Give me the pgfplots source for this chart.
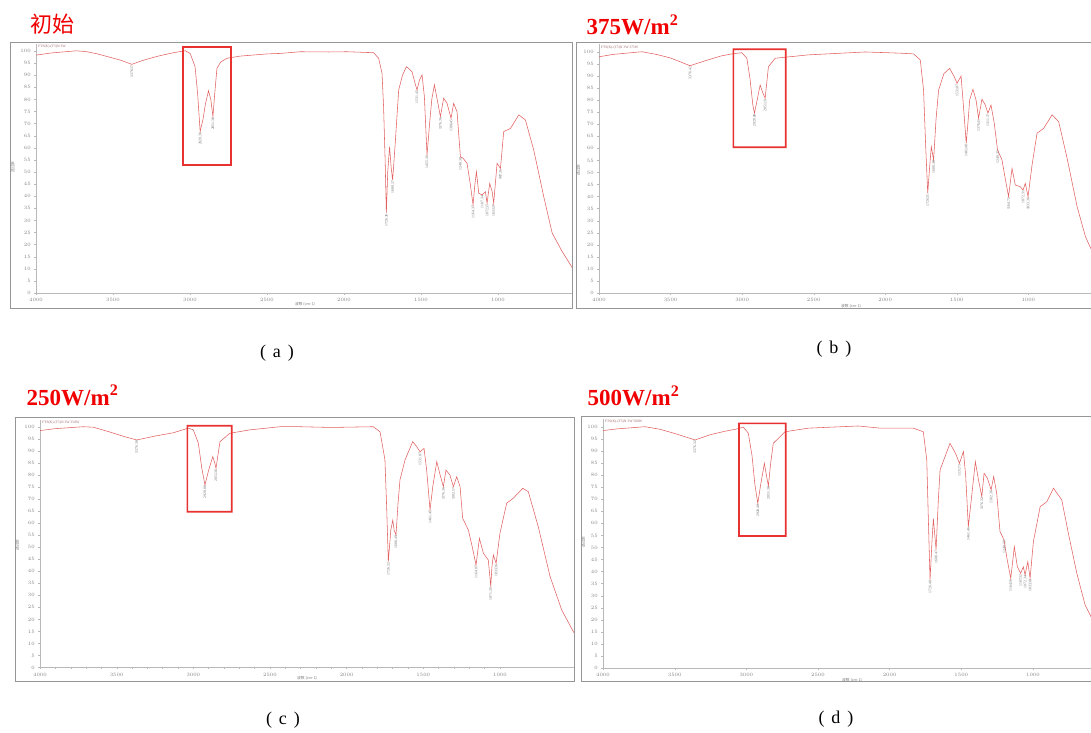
\documentclass[border=0pt]{standalone}
\usepackage{pgfplots}
\pgfplotsset{compat=1.18}
\usepackage{fontspec}
\setmainfont{Liberation Serif}
\newfontfamily\cjk{Noto Sans CJK SC}
\definecolor{spec}{RGB}{226,96,96}
\definecolor{boxred}{RGB}{232,50,50}
\definecolor{titlered}{RGB}{240,0,0}
\definecolor{framegray}{RGB}{150,150,150}
\definecolor{lblgray}{RGB}{110,110,110}

\pgfplotsset{ftir/.style={
  scale only axis, x dir=reverse, xmax=4000, ymin=0,
  axis x line*=bottom, axis y line*=left,
  axis line style={-, gray!55},
  xtick={1000,1500,...,4000}, ytick={0,5,...,100},
  minor x tick num=4,
  tick align=outside, major tick length=1.8pt, minor tick length=1pt,
  tick style={gray!55, line width=0.3pt},
  tick label style={font=\fontsize{3.5}{3.5}\selectfont, text=gray},
  scaled x ticks=false,
  /pgf/number format/1000 sep={},
}}
\newcommand{\pk}[3]{\node[rotate=90, anchor=east, inner sep=0.8pt, text=lblgray, font=\fontsize{3.8}{4}\selectfont] at (axis cs:#1,#2) {#3};}
\newcommand{\hdr}[1]{\node[anchor=north west, inner sep=0.5pt, text=gray!80!red, font=\fontsize{3.6}{4}\selectfont] at (rel axis cs:0.003,0.998) {#1};}
% ring-shaped red box drawn as a fill: x1 y1 x2 y2 (pt)
\newcommand{\ringbox}[4]{\fill[boxred, even odd rule] (#1pt-0.8pt,#2pt-0.8pt) rectangle (#3pt+0.8pt,#4pt+0.8pt) (#1pt+0.8pt,#2pt+0.8pt) rectangle (#3pt-0.8pt,#4pt-0.8pt);}

\begin{document}
\begin{tikzpicture}
\useasboundingbox (0,0) rectangle (1091pt,732pt);

% frames
\draw[framegray, line width=0.9pt] (10pt,424pt) rectangle (572pt,690pt);
\draw[framegray, line width=0.9pt] (1092pt,424pt) -- (576.5pt,424pt) -- (576.5pt,689.3pt) -- (1092pt,689.3pt);
\draw[framegray, line width=0.9pt] (15pt,50.3pt) rectangle (574.3pt,314.3pt);
\draw[framegray, line width=0.9pt] (1092pt,50.3pt) -- (581pt,50.3pt) -- (581pt,315.3pt) -- (1092pt,315.3pt);

% ---------- (a) ----------
\begin{axis}[ftir, at={(36pt,439pt)}, anchor=south west, width=536pt, height=249pt, xmin=519.5, ymax=102.9]
\addplot[color=spec, line width=0.55pt, mark=none] coordinates {
(4000,98.3)(3900,99.2)(3736,100.1)(3670,99.7)(3600,98.8)(3519,97.4)(3450,96.2)(3378,94.5)(3330,95.6)(3280,96.6)(3200,98.0)(3107,99.3)(3031,100.1)(2999,99.0)(2967,93.5)(2950,82)(2934,66.7)(2915,72)(2900,78)(2880,83.6)(2865,80)(2851,72.9)(2840,82)(2825,92.8)(2800,95.5)(2760,97.0)(2674,97.9)(2500,98.8)(2414,99.0)(2284,99.7)(2100,99.6)(1981,99.7)(1808,99.3)(1775,97.0)(1753,90.8)(1743,77)(1733,55)(1725,33)(1716,50)(1704,60.5)(1694,52)(1684,46.7)(1666,63.2)(1645,83.9)(1620,90)(1595,93.5)(1575,92.5)(1558,91.4)(1540,87)(1526,83.9)(1510,88)(1493,90.1)(1478,81.1)(1461,57)(1444,70.1)(1430,80)(1413,86)(1395,80)(1374,72.9)(1353,80.5)(1331,78.4)(1305,72.2)(1288,78.4)(1266,74.9)(1244,56.3)(1227,55.7)(1201,53.6)(1180,45)(1162,36.4)(1150,45)(1140,50.1)(1125,41.2)(1103,40.5)(1082,41.9)(1071,37.1)(1054,45.3)(1038,41.9)(1028,37.1)(1006,53.6)(984,51.5)(963,66.7)(919,68)(865,73.6)(822,71.5)(768,59.1)(703,39.8)(648,24.7)(583,17.1)(529,11.6)(519.5,10.5)
};
\hdr{FTS(K)-(T5)N 3W}
\pk{3378}{94.5}{3376.37}
\pk{2934}{66.7}{2920.36}
\pk{2851}{72.9}{2851.36}
\pk{1725}{33}{1726.36}
\pk{1684}{46.7}{1680.37}
\pk{1526}{83.9}{1531.45}
\pk{1461}{57}{1455.36}
\pk{1374}{72.9}{1376.36}
\pk{1305}{72.2}{1306.45}
\pk{1244}{56.3}{1240.38}
\pk{1162}{36.4}{1164.37}
\pk{1103}{40.5}{1107.34}
\pk{1071}{37.1}{1072.35}
\pk{1028}{37.1}{1033.37}
\pk{984}{51.5}{987.36}
\end{axis}

% ---------- (b) ----------
\begin{axis}[ftir, at={(599pt,439pt)}, anchor=south west, width=492pt, height=248.5pt, xmin=562, ymax=103.1]
\addplot[color=spec, line width=0.55pt, mark=none] coordinates {
(4000,98.0)(3900,99)(3701,100.1)(3600,99)(3500,97.5)(3364,94.3)(3250,96.5)(3150,98.3)(3072,99.2)(3002,99.7)(2967,97.4)(2945,89)(2925,78)(2914,74.6)(2895,80)(2874,86.3)(2855,83)(2839,80.8)(2830,86)(2816,93.9)(2769,97.4)(2536,98.8)(2140,100)(1990,99.7)(1895,99.5)(1802,99.2)(1755,96.7)(1732,84.2)(1718,62)(1703,41.4)(1690,52)(1678,60.7)(1662,55.2)(1645,72)(1627,84.2)(1590,91)(1550,93.2)(1520,90)(1498,87)(1470,90)(1450,75)(1434,62.1)(1420,72)(1410,80.1)(1387,84.5)(1365,80)(1348,72.5)(1324,80.4)(1301,78)(1282,74.6)(1261,78)(1238,70.4)(1215,59.3)(1184,55.2)(1160,47)(1138,40)(1114,51.7)(1091,44.8)(1056,44.1)(1037,42.7)(1021,45.5)(1002,40)(974,53.1)(939,66.3)(893,68.3)(834,73.9)(788,71.1)(729,55.9)(659,35.8)(601,23.4)(562,18.3)
};
\hdr{FTS(K)-(T5)N 3W 375W}
\pk{3364}{94.3}{3376.42}
\pk{2914}{74.6}{2920.88}
\pk{2839}{80.8}{2851.19}
\pk{1703}{41.4}{1726.35}
\pk{1662}{55.2}{1680.48}
\pk{1498}{87}{1531.87}
\pk{1434}{62.1}{1461.48}
\pk{1348}{72.5}{1376.41}
\pk{1282}{74.6}{1311.17}
\pk{1215}{59.3}{1240.35}
\pk{1138}{40}{1164.72}
\pk{1037}{42.7}{1072.31}
\pk{1002}{40}{1033.36}
\end{axis}

% ---------- (c) ----------
\begin{axis}[ftir, at={(40pt,64.5pt)}, anchor=south west, width=534.3pt, height=248pt, xmin=515, ymax=103.1]
\addplot[color=spec, line width=0.55pt, mark=none] coordinates {
(4000,98.5)(3900,99.3)(3718,100.1)(3652,99.9)(3550,98)(3450,96)(3369,94.6)(3250,96.2)(3130,97.6)(3033,99.5)(3000,98.8)(2967,93.2)(2945,83)(2924,75.9)(2900,82)(2873,87.7)(2860,85)(2852,82.8)(2840,88)(2826,93.9)(2761,97.4)(2630,98.8)(2434,100.1)(2304,100.1)(2100,99.8)(1826,100.1)(1782,98)(1750,86.3)(1738,65)(1728,44)(1712,57)(1699,61.3)(1690,57)(1678,55.1)(1665,68)(1652,78)(1619,86.3)(1569,93.9)(1545,92)(1521,89.7)(1495,91.1)(1478,82.1)(1456,65.5)(1438,75.2)(1412,85.6)(1390,80)(1369,75.2)(1352,82.1)(1326,80)(1304,75.2)(1282,79.3)(1260,75.2)(1243,62)(1206,57.2)(1180,50)(1156,42.6)(1134,53.7)(1108,47.5)(1076,44.7)(1066,38)(1060,33.6)(1052,42)(1043,46.8)(1025,43.3)(1000,55.8)(956,68.3)(913,70.4)(851,74.5)(815,73.1)(750,58.5)(673,37.8)(597,23.9)(521,14.9)(515,14.3)
};
\hdr{FTS(K)-(T5)N 3W 250W}
\pk{3369}{94.6}{3376.38}
\pk{2924}{75.9}{2920.88}
\pk{2852}{82.8}{2851.36}
\pk{1728}{44}{1726.32}
\pk{1678}{55.1}{1680.49}
\pk{1521}{89.7}{1531.87}
\pk{1456}{65.5}{1461.45}
\pk{1369}{75.2}{1376.36}
\pk{1304}{75.2}{1302.57}
\pk{1156}{42.6}{1164.87}
\pk{1060}{33.6}{1071.30}
\pk{1025}{43.3}{1033.36}
\end{axis}

% ---------- (d) ----------
\begin{axis}[ftir, at={(603pt,64pt)}, anchor=south west, width=488pt, height=249.5pt, xmin=595, ymax=103.5]
\addplot[color=spec, line width=0.55pt, mark=none] coordinates {
(4000,98.5)(3900,99.2)(3707,100.1)(3600,99)(3500,97.3)(3358,94.6)(3250,96.8)(3150,98.2)(3079,99)(3021,99.9)(2986,97.4)(2960,88)(2940,76)(2920,68.3)(2900,76)(2874,84.9)(2860,80)(2846,75.5)(2830,85)(2812,93.2)(2730,98)(2567,99.5)(2218,100.4)(2067,99.5)(1835,99.5)(1765,98)(1741,86.3)(1730,62)(1718,36.5)(1705,52)(1695,62.1)(1676,49)(1660,70)(1648,82.2)(1579,93.2)(1540,89)(1513,84.9)(1485,89.8)(1469,79.4)(1451,58.6)(1428,71.1)(1402,85.6)(1380,78)(1357,71.1)(1341,80.8)(1318,78.7)(1292,73.9)(1274,79.4)(1253,72.5)(1230,56.6)(1202,53.1)(1180,45)(1155,37.2)(1130,50.3)(1109,42)(1086,39.3)(1067,42)(1055,38.6)(1036,44.1)(1020,37.2)(997,52.4)(950,66.9)(903,69)(857,74.6)(799,69.7)(753,55.9)(694,39.3)(636,26.1)(595,21.3)
};
\hdr{FTS(K)-(T5)N 3W 500W}
\pk{3358}{94.6}{3376.32}
\pk{2920}{68.3}{2920.48}
\pk{2846}{75.5}{2851.30}
\pk{1718}{36.5}{1726.40}
\pk{1676}{49}{1680.47}
\pk{1513}{84.9}{1531.73}
\pk{1451}{58.6}{1461.46}
\pk{1357}{71.1}{1376.32}
\pk{1292}{73.9}{1302.36}
\pk{1202}{53.1}{1240.39}
\pk{1155}{37.2}{1164.36}
\pk{1086}{39.3}{1107.32}
\pk{1055}{38.6}{1072.34}
\pk{1020}{37.2}{1033.38}
\end{axis}

% highlight boxes (annotation), drawn as filled rings
\ringbox{183}{567}{231}{685}
\ringbox{733.3}{584.7}{785.7}{682.7}
\ringbox{187.3}{220.3}{231.7}{306.3}
\ringbox{739}{196}{785.7}{308.7}

% axis labels (tiny)
\foreach \x/\y in {305/428, 851/426, 307/54, 852/52}{
  \node[inner sep=0, text=gray, font=\cjk\fontsize{3.8}{4}\selectfont] at (\x pt,\y pt) {波数 (cm-1)};
}
\foreach \x/\y in {13/565, 578.5/562, 17.5/187, 583.5/190}{
  \node[rotate=90, inner sep=0, text=gray, font=\cjk\fontsize{3.8}{4}\selectfont] at (\x pt,\y pt) {透过率};
}

% titles
\node[anchor=base west, inner sep=0, text=titlered, font=\cjk\fontsize{22}{22}\selectfont] at (30pt,699.5pt) {初始};
\node[anchor=base west, inner sep=0, text=titlered, font=\bfseries\fontsize{23}{23}\selectfont] at (586.5pt,697pt) {375W/m\textsuperscript{2}};
\node[anchor=base west, inner sep=0, text=titlered, font=\bfseries\fontsize{23}{23}\selectfont] at (26.5pt,327pt) {250W/m\textsuperscript{2}};
\node[anchor=base west, inner sep=0, text=titlered, font=\bfseries\fontsize{23}{23}\selectfont] at (587.5pt,326.5pt) {500W/m\textsuperscript{2}};

% sub captions
\node[inner sep=0, font=\fontsize{18}{18}\selectfont] at (277pt,379pt) {(\hspace{7pt}a\hspace{7pt})};
\node[inner sep=0, font=\fontsize{18}{18}\selectfont] at (834pt,383pt) {(\hspace{7pt}b\hspace{7pt})};
\node[inner sep=0, font=\fontsize{18}{18}\selectfont] at (283pt,12pt) {(\hspace{7pt}c\hspace{7pt})};
\node[inner sep=0, font=\fontsize{18}{18}\selectfont] at (836pt,13pt) {(\hspace{7pt}d\hspace{7pt})};
\end{tikzpicture}
\end{document}
